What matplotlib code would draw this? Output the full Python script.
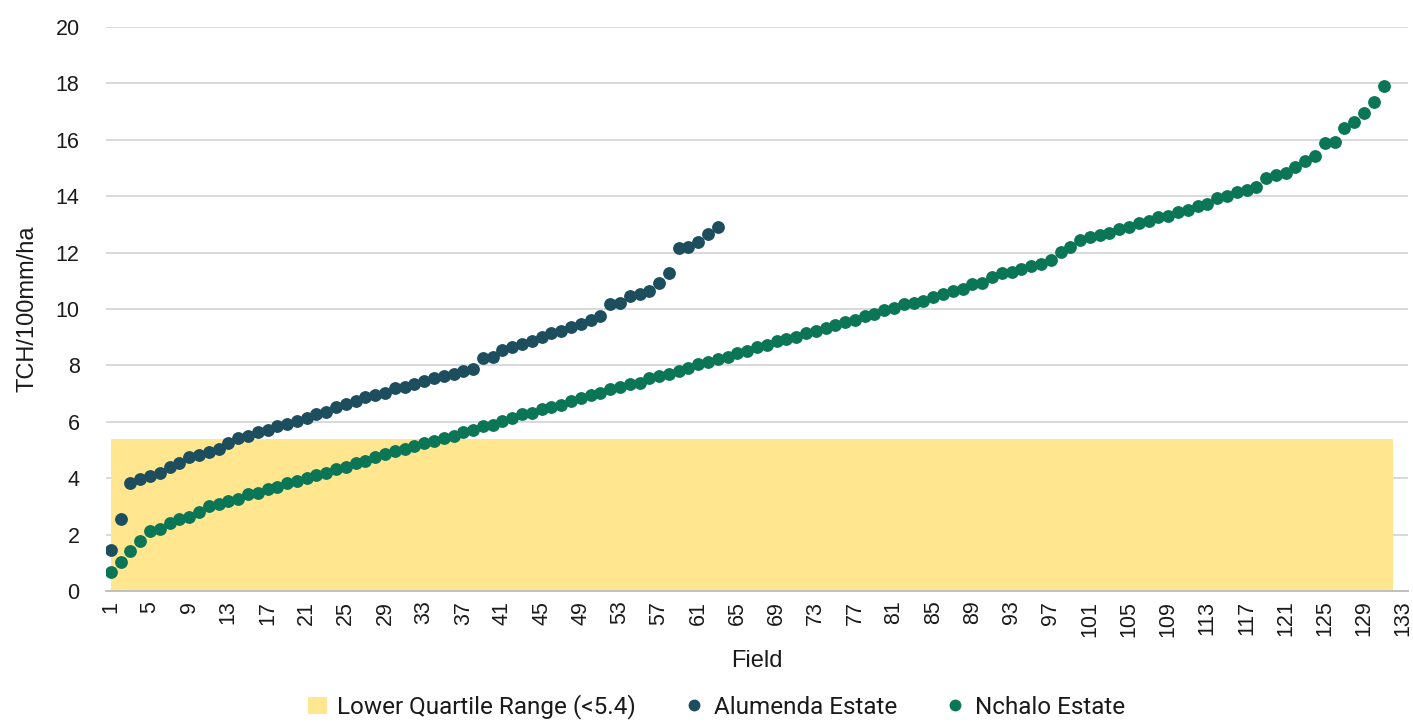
import numpy as np
import matplotlib.pyplot as plt
from matplotlib.lines import Line2D
from matplotlib.patches import Patch

# Data (TCH/100mm/ha per field, sorted)
alumenda = [1.45, 2.55, 3.83, 3.97, 4.08, 4.19, 4.40, 4.53, 4.75, 4.82,
            4.93, 5.03, 5.25, 5.42, 5.50, 5.64, 5.70, 5.85, 5.92, 6.03,
            6.13, 6.27, 6.36, 6.52, 6.62, 6.75, 6.87, 6.95, 7.03, 7.19,
            7.24, 7.33, 7.45, 7.55, 7.62, 7.70, 7.80, 7.87, 8.25, 8.30,
            8.55, 8.65, 8.76, 8.87, 9.01, 9.15, 9.22, 9.36, 9.47, 9.61,
            9.75, 10.18, 10.21, 10.46, 10.53, 10.64, 10.92, 11.27, 12.16, 12.20,
            12.37, 12.66, 12.90]

nchalo = [0.67, 1.03, 1.42, 1.77, 2.13, 2.20, 2.41, 2.55, 2.62, 2.80,
          3.01, 3.08, 3.19, 3.26, 3.44, 3.48, 3.60, 3.69, 3.83, 3.90,
          4.00, 4.11, 4.20, 4.32, 4.40, 4.55, 4.62, 4.76, 4.85, 4.95,
          5.03, 5.15, 5.24, 5.32, 5.43, 5.51, 5.64, 5.72, 5.85, 5.90,
          6.03, 6.15, 6.28, 6.31, 6.45, 6.53, 6.59, 6.74, 6.84, 6.95,
          7.01, 7.16, 7.23, 7.34, 7.38, 7.55, 7.62, 7.70, 7.80, 7.90,
          8.05, 8.12, 8.23, 8.30, 8.44, 8.50, 8.65, 8.72, 8.87, 8.94,
          9.01, 9.15, 9.22, 9.33, 9.43, 9.54, 9.61, 9.75, 9.82, 9.96,
          10.03, 10.18, 10.23, 10.28, 10.43, 10.52, 10.64, 10.70, 10.88, 10.91,
          11.13, 11.27, 11.32, 11.41, 11.53, 11.60, 11.74, 12.02, 12.20, 12.45,
          12.56, 12.62, 12.68, 12.83, 12.92, 13.05, 13.12, 13.26, 13.31, 13.43,
          13.51, 13.65, 13.73, 13.94, 14.00, 14.15, 14.22, 14.33, 14.64, 14.75,
          14.82, 15.04, 15.25, 15.43, 15.89, 15.92, 16.42, 16.63, 16.95, 17.34,
          17.90]

lower_quartile = 5.4
band_fields = [1, 132]
n_categories = 133
tick_labels = list(range(1, n_categories + 1, 4))

c_band = '#FFE68F'
c_alu = '#1C4E5E'
c_nch = '#0A7656'
c_text = '#1a1a1a'

plt.rcParams['font.family'] = ['Liberation Sans', 'DejaVu Sans']

fig = plt.figure(figsize=(14.13, 7.24), dpi=100)
ax = fig.add_axes([0.075, 0.1837, 0.9215, 0.779])

x_alu = np.arange(1, len(alumenda) + 1)
x_nch = np.arange(1, len(nchalo) + 1)

ax.fill_between(band_fields, 0, lower_quartile, color=c_band, linewidth=0, zorder=2)
ax.plot(x_alu, alumenda, 'o', color=c_alu, markersize=8.2, zorder=3)
ax.plot(x_nch, nchalo, 'o', color=c_nch, markersize=8.2, zorder=3)

ax.set_xlim(0.5, n_categories + 0.5)
ax.set_ylim(0, 20)
ax.set_yticks(np.arange(0, 21, 2))
ax.set_xticks(tick_labels)
ax.set_xticklabels([str(t) for t in tick_labels], rotation=90)

ax.set_axisbelow(True)
ax.grid(axis='y', color='#D9D9D9', linewidth=1.4, zorder=0)
for s in ['top', 'right', 'left']:
    ax.spines[s].set_visible(False)
ax.spines['bottom'].set_color('#BFBFBF')
ax.spines['bottom'].set_linewidth(1.4)
ax.spines['bottom'].set_zorder(4)

ax.tick_params(axis='y', length=0, pad=19, labelsize=15.5, labelcolor=c_text)
ax.tick_params(axis='x', length=0, pad=7, labelsize=15.5, labelcolor=c_text)

ax.set_xlabel('Field', fontsize=17, color=c_text, labelpad=10)
ax.set_ylabel('TCH/100mm/ha', fontsize=17, color=c_text, labelpad=12)

handles = [
    Patch(facecolor=c_band, edgecolor='none', label='Lower Quartile Range (<5.4)'),
    Line2D([], [], marker='o', linestyle='none', color=c_alu, markersize=7.5, label='Alumenda Estate'),
    Line2D([], [], marker='o', linestyle='none', color=c_nch, markersize=7.5, label='Nchalo Estate'),
]
fig.legend(handles=handles, loc='center', bbox_to_anchor=(0.507, 0.024), ncol=3,
           frameon=False, handlelength=0.8, handletextpad=0.4, columnspacing=2.0,
           borderpad=0.1, labelcolor=c_text,
           prop={'family': ['Roboto', 'Liberation Sans'], 'size': 17.5})

fig.savefig('out.png', dpi=100)
